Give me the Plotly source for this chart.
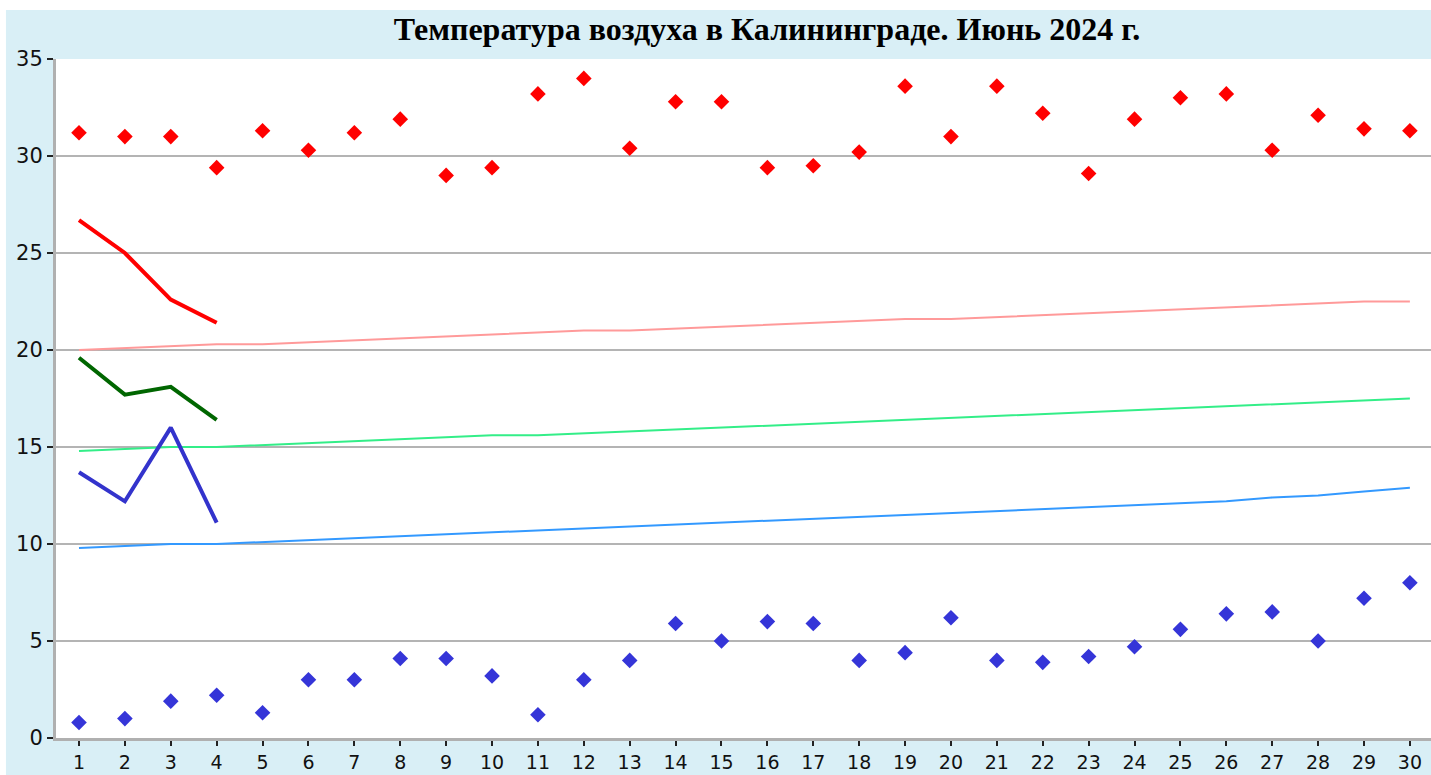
import plotly.graph_objects as go

days = list(range(1, 31))

t_max_abs = [31.2, 31.0, 31.0, 29.4, 31.3, 30.3, 31.2, 31.9, 29.0, 29.4,
             33.2, 34.0, 30.4, 32.8, 32.8, 29.4, 29.5, 30.2, 33.6, 31.0,
             33.6, 32.2, 29.1, 31.9, 33.0, 33.2, 30.3, 32.1, 31.4, 31.3]
t_min_abs = [0.8, 1.0, 1.9, 2.2, 1.3, 3.0, 3.0, 4.1, 4.1, 3.2,
             1.2, 3.0, 4.0, 5.9, 5.0, 6.0, 5.9, 4.0, 4.4, 6.2,
             4.0, 3.9, 4.2, 4.7, 5.6, 6.4, 6.5, 5.0, 7.2, 8.0]

norm_max = [20.0, 20.1, 20.2, 20.3, 20.3, 20.4, 20.5, 20.6, 20.7, 20.8,
            20.9, 21.0, 21.0, 21.1, 21.2, 21.3, 21.4, 21.5, 21.6, 21.6,
            21.7, 21.8, 21.9, 22.0, 22.1, 22.2, 22.3, 22.4, 22.5, 22.5]
norm_avg = [14.8, 14.9, 15.0, 15.0, 15.1, 15.2, 15.3, 15.4, 15.5, 15.6,
            15.6, 15.7, 15.8, 15.9, 16.0, 16.1, 16.2, 16.3, 16.4, 16.5,
            16.6, 16.7, 16.8, 16.9, 17.0, 17.1, 17.2, 17.3, 17.4, 17.5]
norm_min = [9.8, 9.9, 10.0, 10.0, 10.1, 10.2, 10.3, 10.4, 10.5, 10.6,
            10.7, 10.8, 10.9, 11.0, 11.1, 11.2, 11.3, 11.4, 11.5, 11.6,
            11.7, 11.8, 11.9, 12.0, 12.1, 12.2, 12.4, 12.5, 12.7, 12.9]

obs_days = [1, 2, 3, 4]
obs_max = [26.7, 25.0, 22.6, 21.4]
obs_avg = [19.6, 17.7, 18.1, 16.4]
obs_min = [13.7, 12.2, 16.0, 11.1]

title_text = "Температура воздуха в Калининграде. Июнь 2024 г."
y_ticks = [0, 5, 10, 15, 20, 25, 30, 35]

fig = go.Figure()

fig.add_trace(go.Scatter(x=days, y=norm_max, mode="lines",
                         line=dict(color="#ff9a9a", width=2), showlegend=False))
fig.add_trace(go.Scatter(x=days, y=norm_avg, mode="lines",
                         line=dict(color="#33ee88", width=2), showlegend=False))
fig.add_trace(go.Scatter(x=days, y=norm_min, mode="lines",
                         line=dict(color="#3399ff", width=2), showlegend=False))

fig.add_trace(go.Scatter(x=obs_days, y=obs_max, mode="lines",
                         line=dict(color="#ff0000", width=4), showlegend=False))
fig.add_trace(go.Scatter(x=obs_days, y=obs_avg, mode="lines",
                         line=dict(color="#006600", width=4), showlegend=False))
fig.add_trace(go.Scatter(x=obs_days, y=obs_min, mode="lines",
                         line=dict(color="#3333cc", width=4), showlegend=False))

fig.add_trace(go.Scatter(x=days, y=t_max_abs, mode="markers",
                         marker=dict(symbol="diamond", size=12, color="#ff0000"),
                         showlegend=False))
fig.add_trace(go.Scatter(x=days, y=t_min_abs, mode="markers",
                         marker=dict(symbol="diamond", size=12, color="#3535d8"),
                         showlegend=False))

# light-blue background frame around the plot area
fig.add_shape(type="rect", xref="paper", yref="paper",
              x0=-0.0364, x1=1.01, y0=-0.06, y1=1.0722,
              fillcolor="#d9eff6", line=dict(width=0), layer="below")
fig.add_shape(type="rect", xref="paper", yref="paper",
              x0=0, x1=1, y0=0, y1=1,
              fillcolor="#ffffff", line=dict(width=0), layer="below")

fig.update_layout(
    width=1431, height=775,
    margin=dict(l=56, r=0, t=59, b=37, autoexpand=False),
    paper_bgcolor="#ffffff",
    plot_bgcolor="rgba(0,0,0,0)",
    title=dict(text="<b>" + title_text + "</b>", x=0.536, xanchor="center",
               y=0.9626, yanchor="middle",
               font=dict(family="Liberation Serif", size=32, color="#000000")),
    xaxis=dict(range=[0.499, 30.46], tickmode="array", tickvals=days,
               ticktext=[str(d) for d in days], showgrid=False,
               showline=True, linecolor="#b0b0b0", linewidth=3,
               ticks="outside", ticklen=5, tickwidth=2, tickcolor="#222222",
               tickfont=dict(family="DejaVu Sans", size=19, color="#111111"),
               zeroline=False, fixedrange=True, automargin=False),
    yaxis=dict(range=[0, 35], tickmode="array", tickvals=y_ticks,
               showgrid=True, gridcolor="#b4b4b4", gridwidth=2,
               showline=True, linecolor="#b0b0b0", linewidth=3,
               ticks="outside", ticklen=6, tickwidth=2, tickcolor="#222222",
               tickfont=dict(family="DejaVu Sans", size=21, color="#111111"),
               zeroline=False, fixedrange=True, automargin=False),
)

fig.write_html(
    "out.html",
    config={"displayModeBar": False},
    post_script="document.body.style.margin='0';document.body.style.overflow='hidden';",
)
